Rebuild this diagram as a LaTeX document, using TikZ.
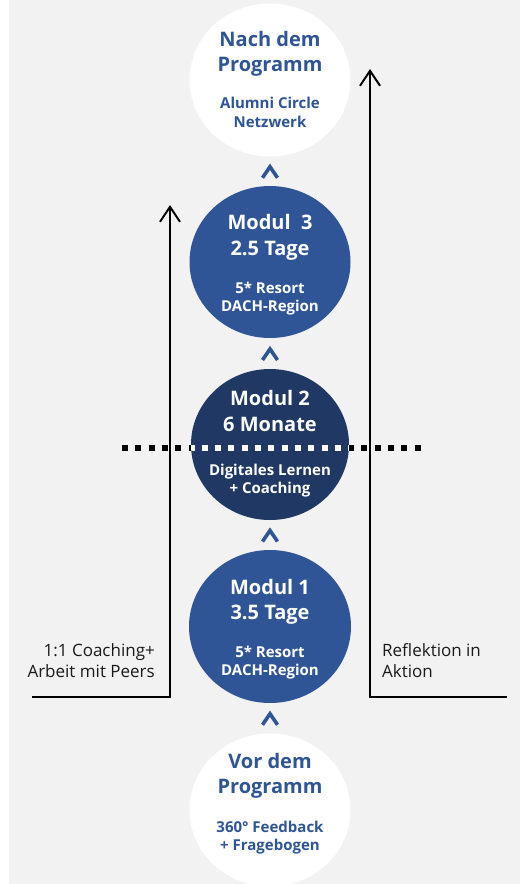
\documentclass[tikz,border=0pt]{standalone}
\usepackage{fontspec}
\setmainfont{Open Sans}
\usetikzlibrary{arrows.meta,calc,shapes.geometric}
\definecolor{bgray}{HTML}{F2F2F2}
\definecolor{blueA}{HTML}{2F5597}
\definecolor{navy}{HTML}{203864}
\definecolor{txtdark}{HTML}{1A1A1A}
\begin{document}
\begin{tikzpicture}[x=1pt,y=-1pt,
  circ/.style={ellipse,minimum width=161pt,minimum height=153pt,inner sep=0pt,draw=none},
  ttl/.style={anchor=base,font=\fontsize{20}{24}\selectfont\bfseries,inner sep=0pt},
  sub/.style={anchor=base,font=\fontsize{15}{18}\selectfont\bfseries,inner sep=0pt},
  side/.style={inner sep=0pt,font=\fontsize{17}{20}\selectfont,text=txtdark},
  flow/.style={line width=2pt,black,-{Straight Barb[length=15pt,width=20pt,line width=2pt]}},
  chevron/.style={blueA,line width=3.6pt,line cap=butt,line join=miter},
  dots/.style={line width=5.8pt,dash pattern=on 6pt off 7.3pt}
]
\useasboundingbox (0,0) rectangle (520,884);
\fill[white] (0,0) rectangle (520,884);
\fill[bgray] (9,0) rectangle (520,884);

% side arrows
\coordinate (lstart) at (32,697);
\coordinate (ltip) at (170,205);
\coordinate (rstart) at (507,697);
\coordinate (rtip) at (370,69);
\draw[flow] (lstart) -| (ltip);
\draw[flow] (rstart) -| (rtip);

% circles
\node[circ,fill=white] (post) at (270,80) {};
\node[circ,fill=blueA,minimum height=152pt] (m3) at (270,262) {};
\node[circ,fill=navy,minimum width=158pt,minimum height=151pt] (m2) at (270,444.5) {};
\node[circ,fill=blueA,minimum width=162pt] (m1) at (270,626.5) {};
\node[circ,fill=white] (pre) at (270,810) {};

% texts
\node[ttl,text=blueA] (post-a) at (270,46) {Nach dem};
\node[ttl,text=blueA] (post-b) at (270,71) {Programm};
\node[sub,text=blueA] (post-c) at (270,108) {Alumni Circle};
\node[sub,text=blueA] (post-d) at (270,127) {Netzwerk};

\node[ttl,text=white] (m3-a) at (270,229) {Modul\ \ 3};
\node[ttl,text=white] (m3-b) at (270,255) {2.5 Tage};
\node[sub,text=white] (m3-c) at (270,293) {5* Resort};
\node[sub,text=white] (m3-d) at (270,311) {DACH-Region};

\node[ttl,text=white] (m2-a) at (270,405) {Modul 2};
\node[ttl,text=white] (m2-b) at (270,431) {6 Monate};
\node[sub,text=white] (m2-c) at (270,475) {Digitales Lernen};
\node[sub,text=white] (m2-d) at (270,493) {+ Coaching};

\node[ttl,text=white] (m1-a) at (270,594) {Modul 1};
\node[ttl,text=white] (m1-b) at (270,619) {3.5 Tage};
\node[sub,text=white] (m1-c) at (270,657) {5* Resort};
\node[sub,text=white] (m1-d) at (270,675) {DACH-Region};

\node[ttl,text=blueA] (pre-a) at (270,768) {Vor dem};
\node[ttl,text=blueA] (pre-b) at (270,793) {Programm};
\node[sub,text=blueA] (pre-c) at (270,832) {360° Feedback};
\node[sub,text=blueA] (pre-d) at (270,850) {+ Fragebogen};

% side labels
\node[side,anchor=base east] (l1) at (155,656) {1:1 Coaching+};
\node[side,anchor=base east] (l2) at (155,677) {Arbeit mit Peers};
\node[side,anchor=base west] (r1) at (382,656) {Reflektion in};
\node[side,anchor=base west] (r2) at (382,677) {Aktion};

% dotted line
\coordinate (dl) at (122,448);
\coordinate (dr) at (422,448);
\draw[dots,black] (dl) -- (dr);
\begin{scope}
  \clip (m2.center) ellipse [x radius=79pt,y radius=75.5pt];
  \draw[dots,white] (dl) -- (dr);
\end{scope}

% chevrons between stages
\foreach \a/\b/\n in {post/m3/c1,m3/m2/c2,m2/m1/c3,m1/pre/c4}{
  \coordinate (\n) at ($(\a.south)!0.5!(\b.north)$);
  \draw[chevron] ($(\n)+(-7.5,6.5)$) -- ($(\n)+(0,-4.5)$) -- ($(\n)+(7.5,6.5)$);
}
\end{tikzpicture}
\end{document}
